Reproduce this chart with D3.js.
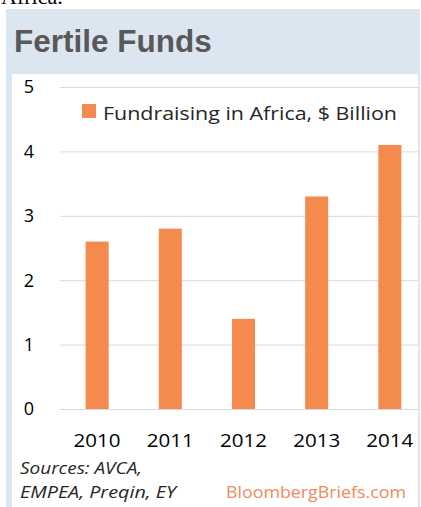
<!DOCTYPE html>
<html><head><meta charset="utf-8">
<script src="https://cdn.jsdelivr.net/npm/d3@7"></script>
<style>body{margin:0;background:#fff;}svg{display:block;}</style>
</head><body>
<script>
const categories = ["2010","2011","2012","2013","2014"];
const values = [2.6, 2.8, 1.4, 3.3, 4.1];
const yTicks = [0,1,2,3,4,5];
const seriesName = "Fundraising in Africa, $ Billion";
const title = "Fertile Funds";
const sourceLines = ["Sources: AVCA,", "EMPEA, Preqin, EY"];
const credit = "BloombergBriefs.com";

const W = 421, H = 507;
const svg = d3.select("body").append("svg").attr("width", W).attr("height", H);

svg.append("text").attr("x", 1).attr("y", 4).attr("font-family", "Liberation Serif, serif")
  .attr("font-size", 22).attr("fill", "#000").text("Africa.");

svg.append("rect").attr("x", 6).attr("y", 9).attr("width", 414).attr("height", H - 9).attr("fill", "#dce6f1");
svg.append("rect").attr("x", 12).attr("y", 74).attr("width", 406).attr("height", H - 74).attr("fill", "#fff");

svg.append("text").attr("x", 14).attr("y", 52).attr("font-family", "Liberation Sans, Arial, sans-serif")
  .attr("font-weight", "bold").attr("font-size", 31.5).attr("fill", "#595959").text(title);

const y = d3.scaleLinear().domain([0, 5]).range([409, 87]);
const x = d3.scaleBand().domain(categories).range([60, 427]).paddingInner(0.685).paddingOuter(0.35);

const grid = svg.append("g");
grid.selectAll("line").data(yTicks).join("line")
  .attr("x1", 60).attr("x2", 418).attr("y1", d => y(d) + 0.5).attr("y2", d => y(d) + 0.5)
  .attr("stroke", "#d9d9d9").attr("stroke-width", 1);

const font = "'Open Sans', sans-serif";
svg.append("g").selectAll("text").data(yTicks).join("text")
  .attr("x", 29).attr("y", d => y(d)).attr("dy", "0.35em").attr("text-anchor", "middle")
  .attr("font-family", font).attr("font-size", 18).attr("fill", "#000").text(d => d);

svg.append("g").selectAll("rect").data(values).join("rect")
  .attr("x", (d, i) => x(categories[i])).attr("width", x.bandwidth())
  .attr("y", d => y(d)).attr("height", d => y(0) - y(d)).attr("fill", "#f58a4f");

svg.append("g").selectAll("text").data(categories).join("text")
  .attr("x", d => x(d) + x.bandwidth() / 2).attr("y", 447).attr("text-anchor", "middle")
  .attr("font-family", font).attr("font-size", 18).attr("fill", "#000")
  .attr("textLength", 47).attr("lengthAdjust", "spacingAndGlyphs").text(d => d);

svg.append("rect").attr("x", 82).attr("y", 104).attr("width", 14).attr("height", 14).attr("fill", "#f58a4f");
svg.append("text").attr("x", 103).attr("y", 120).attr("font-family", font).attr("font-size", 19)
  .attr("textLength", 294).attr("lengthAdjust", "spacingAndGlyphs")
  .attr("fill", "#262626").text(seriesName);

const srcLens = [122, 156];
svg.append("g").selectAll("text").data(sourceLines).join("text")
  .attr("x", 20).attr("y", (d, i) => 474 + i * 24).attr("font-family", font).attr("font-style", "italic")
  .attr("font-size", 16).attr("fill", "#262626")
  .attr("textLength", (d, i) => srcLens[i]).attr("lengthAdjust", "spacingAndGlyphs").text(d => d);

svg.append("text").attr("x", 226).attr("y", 498)
  .attr("font-family", font).attr("font-size", 16).attr("fill", "#ef8a5a")
  .attr("textLength", 180).attr("lengthAdjust", "spacingAndGlyphs").text(credit);
</script>
</body></html>
